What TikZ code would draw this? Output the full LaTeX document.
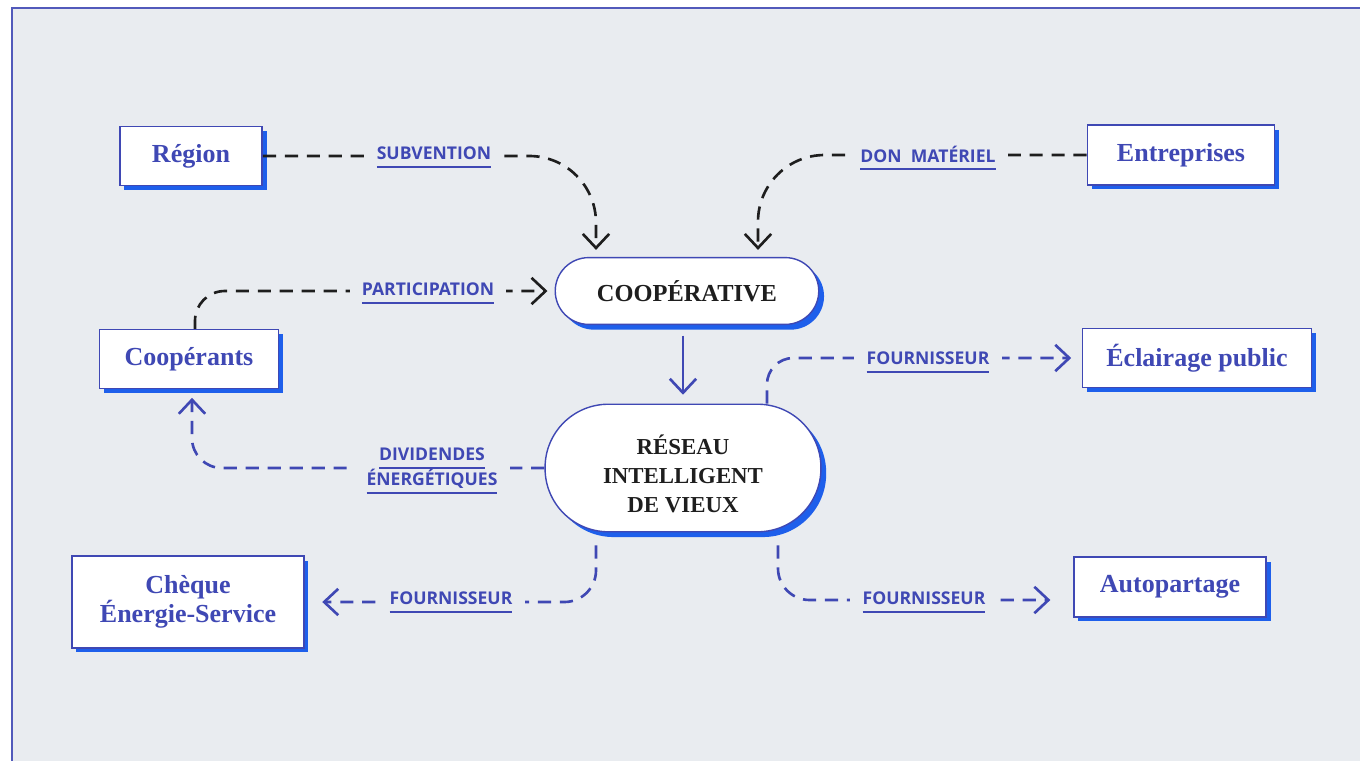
\documentclass[tikz,border=0pt]{standalone}
\usepackage{fontspec}
\setmainfont{Liberation Serif}
\newfontfamily\labelfont{Open Sans}
\usepackage{xcolor}
\usepackage{tikz}
\usetikzlibrary{arrows.meta, shapes.misc, shadows, calc}
\definecolor{paper}{HTML}{E9ECF0}
\definecolor{ink}{HTML}{3F48B4}
\definecolor{shade}{HTML}{1E5FEB}
\definecolor{coal}{HTML}{1E1E1E}
\newcommand{\ulabel}[1]{\setbox0\hbox{#1}\dp0=0pt\vtop{\copy0\kern3.6pt\hrule width\wd0 height1.1pt}}
\tikzstyle{entity} = [rectangle, draw=ink, line width=0.8pt, fill=white, text=ink, inner sep=0pt, align=center, font=\fontsize{14.8}{15}\selectfont\bfseries, general shadow={fill=shade, shadow xshift=2.5pt, shadow yshift=-2.5pt}]
\tikzstyle{hub} = [rectangle, draw=ink, line width=0.8pt, fill=white, text=coal, inner sep=0pt, align=center, font=\fontsize{13}{16.4}\selectfont\bfseries, general shadow={fill=shade, shadow xshift=3pt, shadow yshift=-3pt}]
\tikzstyle{flowlabel} = [fill=paper, text=ink, inner xsep=7pt, inner ysep=1pt, align=center, font=\labelfont\fontsize{10}{14.3}\selectfont\bfseries]
\tikzstyle{blackflow} = [line width=1.5pt, draw=coal, dash pattern=on 7.5pt off 5pt, -{Straight Barb[length=8pt,width=15pt]}]
\tikzstyle{blueflow} = [line width=1.5pt, draw=ink, dash pattern=on 7.5pt off 5pt, -{Straight Barb[length=8pt,width=15pt]}]
\tikzstyle{mainflow} = [line width=1.5pt, draw=ink, -{Straight Barb[length=8pt,width=15pt]}]

\begin{document}
\begin{tikzpicture}[x=0.02cm, y=-0.02cm]

		% Frame
		\useasboundingbox (0,0) rectangle (1360,761);
		\fill[paper] (12,8) rectangle (1360,761);
		\draw[ink!90, line width=1pt] (12,761) -- (12,8) -- (1360,8);

		% Central nodes
		\node (coop) [hub, minimum width=150pt, minimum height=38pt, rounded corners=19pt, font=\fontsize{13.9}{16}\selectfont\bfseries] at (687,291) {COOPÉRATIVE};
		\node (reseau) [hub, minimum width=157pt, minimum height=72.6pt, rounded corners=36pt] at (683,468) {\rule{0pt}{18pt}RÉSEAU\\INTELLIGENT\\DE VIEUX};

		% Outer nodes
		\node (region) [entity, minimum width=81pt, minimum height=33.4pt] at (191,156) {Région};
		\node (entreprises) [entity, minimum width=106.6pt, minimum height=34pt] at (1181,155) {Entreprises};
		\node (cooperants) [entity, minimum width=102pt, minimum height=33.4pt] at (189,359) {Coopérants};
		\node (eclairage) [entity, minimum width=130.4pt, minimum height=33.4pt] at (1197,358) {Éclairage public};
		\node (cheque) [entity, minimum width=132pt, minimum height=52.2pt] at (188,602) {Chèque\\Énergie-Service};
		\node (autopartage) [entity, minimum width=109.4pt, minimum height=34pt] at (1170,587) {Autopartage};

		% Flows into the cooperative
		\draw [blackflow, rounded corners=38pt, shorten >=4pt] (region.east) -| ($(coop.north)+(-91,0)$);
		\draw [blackflow, rounded corners=38pt, shorten >=4pt] (entreprises.west) -| ($(coop.north)+(71,0)$);
		\draw [blackflow, rounded corners=17pt, shorten >=4pt] ($(cooperants.north)+(6,0)$) |- (coop.west);
		\draw [mainflow, shorten <=6pt, shorten >=5pt] (coop.south -| reseau.north) -- (reseau.north);

		% Flows out of the network
		\draw [blueflow, rounded corners=17pt, shorten >=5pt] (reseau.west) -| ($(cooperants.south)+(3,0)$);
		\draw [blueflow, rounded corners=15pt, shorten >=6pt] ($(reseau.north)+(84,0)$) |- (eclairage.west);
		\draw [blueflow, rounded corners=18pt, shorten >=10pt] ($(reseau.south)+(-87,13)$) |- (cheque.east);
		\draw [blueflow, rounded corners=18pt, shorten >=13pt] ($(reseau.south)+(95,13)$) |- ($(autopartage.west)+(0,13)$);

		% Labels
		\node (subvention) [flowlabel] at (434,157) {\ulabel{SUBVENTION}};
		\node (don) [flowlabel] at (928,158) {\ulabel{DON~ MATÉRIEL}};
		\node (participation) [flowlabel] at (428,293) {\ulabel{PARTICIPATION}};
		\node (dividendes) [flowlabel] at (432,471) {\ulabel{DIVIDENDES}\\\ulabel{ÉNERGÉTIQUES}};
		\node (fournisseurA) [flowlabel] at (928,362) {\ulabel{FOURNISSEUR}};
		\node (fournisseurB) [flowlabel] at (451,602) {\ulabel{FOURNISSEUR}};
		\node (fournisseurC) [flowlabel] at (924,602) {\ulabel{FOURNISSEUR}};

	\end{tikzpicture}
\end{document}
